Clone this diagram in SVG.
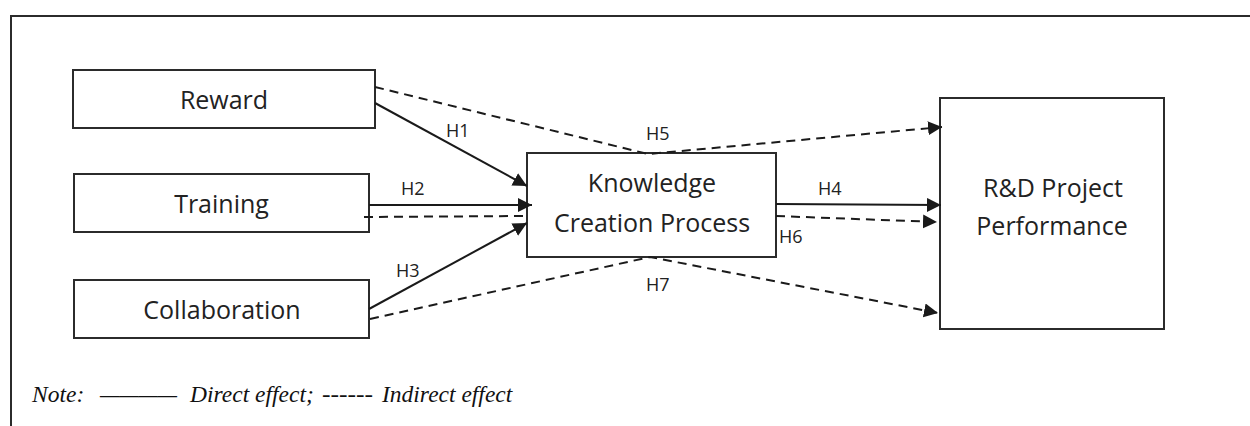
<svg xmlns="http://www.w3.org/2000/svg" width="1250" height="426" viewBox="0 0 1250 426">
<defs>
<style>
.box{fill:#fff;stroke:#2b2b2b;stroke-width:2}
.lbl{font-family:"Open Sans","Noto Sans",sans-serif;font-size:25px;fill:#222;text-anchor:middle}
.h{font-family:"Open Sans","Noto Sans",sans-serif;font-size:18px;fill:#222}
.solid{fill:none;stroke:#1a1a1a;stroke-width:2}
.dash{fill:none;stroke:#1a1a1a;stroke-width:2;stroke-dasharray:9,6}
.note{font-family:"Liberation Serif","Times New Roman",serif;font-style:italic;font-size:23.5px;fill:#111}
</style>
<marker id="arr" markerUnits="userSpaceOnUse" markerWidth="16" markerHeight="16" refX="14" refY="7" orient="auto">
<path d="M0,0 L14,7 L0,14 Z" fill="#1a1a1a"/>
</marker>
</defs>
<rect width="1250" height="426" fill="#fff"/>
<path d="M11,426 L11,16 L1250,16" fill="none" stroke="#2b2b2b" stroke-width="2"/>

<g id="reward"><rect class="box" x="73" y="70" width="302" height="58"/><text class="lbl" x="224" y="109">Reward</text></g>
<g id="training"><rect class="box" x="74" y="174" width="295" height="58"/><text class="lbl" x="221.5" y="213">Training</text></g>
<g id="collaboration"><rect class="box" x="74" y="280" width="295" height="58"/><text class="lbl" x="222" y="319">Collaboration</text></g>
<g id="kcp"><rect class="box" x="527" y="153" width="249" height="104"/><text class="lbl" x="652" y="192">Knowledge</text><text class="lbl" x="652" y="232">Creation Process</text></g>
<g id="rd"><rect class="box" x="940" y="98" width="224" height="231"/><text class="lbl" x="1053" y="197">R&amp;D Project</text><text class="lbl" x="1052" y="235">Performance</text></g>

<g id="connectors">
<line class="solid" x1="375" y1="103" x2="527" y2="186" marker-end="url(#arr)"/>
<line class="solid" x1="369" y1="205" x2="532" y2="205" marker-end="url(#arr)"/>
<line class="solid" x1="369" y1="309" x2="527" y2="223" marker-end="url(#arr)"/>
<line class="solid" x1="776" y1="204" x2="941" y2="205" marker-end="url(#arr)"/>
<line class="dash" x1="364" y1="217" x2="523" y2="216"/>
<polyline class="dash" points="375,87 648,154 942,127" marker-end="url(#arr)"/>
<polyline class="dash" points="370,319 650,257 938,313" marker-end="url(#arr)"/>
<line class="dash" x1="776" y1="216" x2="937" y2="222" marker-end="url(#arr)"/>
<text class="h" x="446" y="137">H1</text>
<text class="h" x="401" y="195">H2</text>
<text class="h" x="396" y="277">H3</text>
<text class="h" x="818" y="195">H4</text>
<text class="h" x="646" y="140">H5</text>
<text class="h" x="779" y="243">H6</text>
<text class="h" x="646" y="291">H7</text>
</g>

<g id="note">
<text class="note" x="32" y="402">Note:</text>
<text class="note" x="100" y="402" textLength="77" lengthAdjust="spacingAndGlyphs">————</text>
<text class="note" x="190" y="402">Direct effect;</text>
<text class="note" x="322" y="402" textLength="51" lengthAdjust="spacingAndGlyphs">------</text>
<text class="note" x="382" y="402">Indirect effect</text>
</g>
</svg>
